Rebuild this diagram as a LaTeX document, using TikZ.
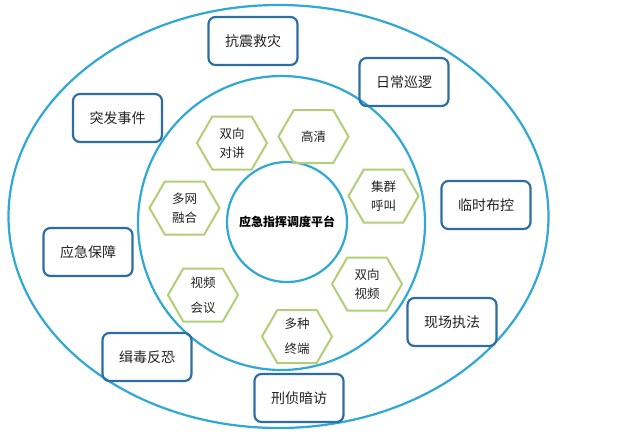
\documentclass[tikz,border=0pt]{standalone}
\usepackage{fontspec}
\setmainfont{Noto Sans CJK SC}
\usepackage{xcolor}
\usetikzlibrary{shapes.symbols}

\definecolor{ringblue}{HTML}{2FA8D5}
\definecolor{boxblue}{HTML}{2E6DA4}
\definecolor{hexgreen}{HTML}{B2CE78}
\definecolor{txt}{HTML}{222222}

\begin{document}
\begin{tikzpicture}[x=1pt,y=-1pt,
        ring/.style={draw=ringblue,line width=2.2pt},
        scene/.style={draw=boxblue,line width=2.2pt,rounded corners=7pt,minimum width=89pt,minimum height=48pt,inner sep=0pt,font=\fontsize{14}{16}\selectfont,text=txt},
        feat/.style={draw=hexgreen,line width=2pt,signal,signal to=east and west,signal pointer angle=120,minimum width=70pt,minimum height=53pt,inner sep=0pt,align=center,font=\fontsize{12.5}{19}\selectfont,text=txt}]
        \useasboundingbox (0,0) rectangle (632,440);
        % rings
        \draw[ring] (278.5,216.5) ellipse [x radius=270, y radius=211.5];
        \draw[ring] (281.5,223) ellipse [x radius=143.5, y radius=147];
        \node[ring,circle,minimum size=120pt,inner sep=0pt,font=\bfseries\fontsize{12}{14}\selectfont,text=black] (pingtai) at (287,222) {应急指挥调度平台};
        % hexagons
        \node[feat] (duijiang) at (232,143) {双向\\对讲};
        \node[feat] (gaoqing) at (313.5,136.5) {高清};
        \node[feat] (hujiao) at (383.5,196) {集群\\呼叫};
        \node[feat] (shipin) at (367,284) {双向\\视频};
        \node[feat] (zhongduan) at (297,336.5) {多种\\[6pt]终端};
        \node[feat] (huiyi) at (203,295) {视频\\[6pt]会议};
        \node[feat] (ronghe) at (184.5,208) {多网\\融合};
        % scenes
        \node[scene] (kangzhen) at (253,41) {抗震救灾};
        \node[scene] (richang) at (404,82) {日常巡逻};
        \node[scene] (linshi) at (486,205) {临时布控};
        \node[scene] (xianchang) at (452,322) {现场执法};
        \node[scene] (xingzhen) at (299,398) {刑侦暗访};
        \node[scene] (jidu) at (147,357) {缉毒反恐};
        \node[scene] (baozhang) at (88,252) {应急保障};
        \node[scene] (tufa) at (117.5,118) {突发事件};
\end{tikzpicture}
\end{document}
